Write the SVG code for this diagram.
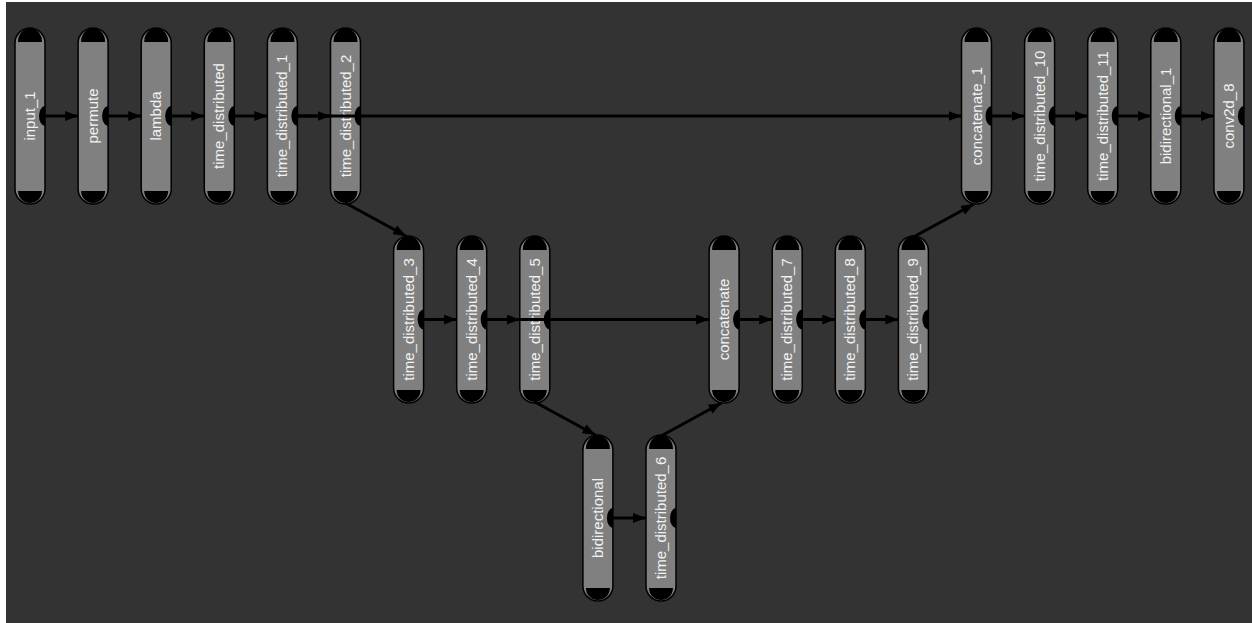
<svg xmlns="http://www.w3.org/2000/svg" xmlns:xlink="http://www.w3.org/1999/xlink" width="1252" height="623" viewBox="0 0 1252 623">
<style>
.pill{fill:#808080;stroke:#000;stroke-width:1.5}
.cap{fill:#000}
.lbl{font-family:"Liberation Sans",Arial,sans-serif;font-size:15px;fill:#f2f2f2;text-anchor:middle}
.edge{fill:none;stroke:#000;stroke-width:3;marker-end:url(#ah)}
</style>
<defs>
<marker id="ah" markerUnits="userSpaceOnUse" markerWidth="13" markerHeight="10" refX="13" refY="5" orient="auto">
<path d="M0,0 L13,5 L0,10 Z" fill="#000"/>
</marker>
<g id="pT">
<rect class="pill" x="-15" y="0" width="30" height="176" rx="15"/>
<path class="cap" d="M-12,14 A12,14 0 0 1 12,14 Z"/>
<path class="cap" d="M-12,163 A12,12 0 0 0 12,163 Z"/>
<path class="cap" d="M15,78 A6,10 0 0 0 15,98 Z"/>
</g>
<g id="pM">
<rect class="pill" x="-15" y="0" width="30" height="167" rx="15"/>
<path class="cap" d="M-12,14 A12,14 0 0 1 12,14 Z"/>
<path class="cap" d="M-12,154 A12,12 0 0 0 12,154 Z"/>
<path class="cap" d="M15,73.5 A6,10 0 0 0 15,93.5 Z"/>
</g>
<g id="pB">
<rect class="pill" x="-15" y="0" width="30" height="166" rx="15"/>
<path class="cap" d="M-12,14 A12,14 0 0 1 12,14 Z"/>
<path class="cap" d="M-12,153 A12,12 0 0 0 12,153 Z"/>
<path class="cap" d="M15,73 A6,10 0 0 0 15,93 Z"/>
</g>
</defs>
<rect x="0" y="0" width="1252" height="623" fill="#ffffff"/>
<rect x="6" y="2" width="1246" height="621" fill="#333333"/>

<g id="nodes">
<g id="input_1"><use xlink:href="#pT" x="30" y="28"/><text class="lbl" transform="translate(35,116) rotate(-90)">input_1</text></g>
<g id="permute"><use xlink:href="#pT" x="93.1" y="28"/><text class="lbl" transform="translate(98.1,116) rotate(-90)">permute</text></g>
<g id="lambda"><use xlink:href="#pT" x="156.2" y="28"/><text class="lbl" transform="translate(161.2,116) rotate(-90)">lambda</text></g>
<g id="time_distributed"><use xlink:href="#pT" x="219.3" y="28"/><text class="lbl" transform="translate(224.3,116) rotate(-90)">time_distributed</text></g>
<g id="time_distributed_1"><use xlink:href="#pT" x="282.4" y="28"/><text class="lbl" transform="translate(287.4,116) rotate(-90)">time_distributed_1</text></g>
<g id="time_distributed_2"><use xlink:href="#pT" x="345.5" y="28"/><text class="lbl" transform="translate(350.5,116) rotate(-90)">time_distributed_2</text></g>
<g id="time_distributed_3"><use xlink:href="#pM" x="408.6" y="236"/><text class="lbl" transform="translate(413.6,319.5) rotate(-90)">time_distributed_3</text></g>
<g id="time_distributed_4"><use xlink:href="#pM" x="471.7" y="236"/><text class="lbl" transform="translate(476.7,319.5) rotate(-90)">time_distributed_4</text></g>
<g id="time_distributed_5"><use xlink:href="#pM" x="534.8" y="236"/><text class="lbl" transform="translate(539.8,319.5) rotate(-90)">time_distributed_5</text></g>
<g id="bidirectional"><use xlink:href="#pB" x="597.9" y="435"/><text class="lbl" transform="translate(602.9,518) rotate(-90)">bidirectional</text></g>
<g id="time_distributed_6"><use xlink:href="#pB" x="661" y="435"/><text class="lbl" transform="translate(666,518) rotate(-90)">time_distributed_6</text></g>
<g id="concatenate"><use xlink:href="#pM" x="724.1" y="236"/><text class="lbl" transform="translate(729.1,319.5) rotate(-90)">concatenate</text></g>
<g id="time_distributed_7"><use xlink:href="#pM" x="787.2" y="236"/><text class="lbl" transform="translate(792.2,319.5) rotate(-90)">time_distributed_7</text></g>
<g id="time_distributed_8"><use xlink:href="#pM" x="850.3" y="236"/><text class="lbl" transform="translate(855.3,319.5) rotate(-90)">time_distributed_8</text></g>
<g id="time_distributed_9"><use xlink:href="#pM" x="913.4" y="236"/><text class="lbl" transform="translate(918.4,319.5) rotate(-90)">time_distributed_9</text></g>
<g id="concatenate_1"><use xlink:href="#pT" x="976.5" y="28"/><text class="lbl" transform="translate(981.5,116) rotate(-90)">concatenate_1</text></g>
<g id="time_distributed_10"><use xlink:href="#pT" x="1039.6" y="28"/><text class="lbl" transform="translate(1044.6,116) rotate(-90)">time_distributed_10</text></g>
<g id="time_distributed_11"><use xlink:href="#pT" x="1102.7" y="28"/><text class="lbl" transform="translate(1107.7,116) rotate(-90)">time_distributed_11</text></g>
<g id="bidirectional_1"><use xlink:href="#pT" x="1165.8" y="28"/><text class="lbl" transform="translate(1170.8,116) rotate(-90)">bidirectional_1</text></g>
<g id="conv2d_8"><use xlink:href="#pT" x="1228.9" y="28"/><text class="lbl" transform="translate(1233.9,116) rotate(-90)">conv2d_8</text></g>
</g>

<g id="connectors">
<line class="edge" x1="45" y1="116" x2="78.1" y2="116"/>
<line class="edge" x1="108.1" y1="116" x2="141.2" y2="116"/>
<line class="edge" x1="171.2" y1="116" x2="204.3" y2="116"/>
<line class="edge" x1="234.3" y1="116" x2="267.4" y2="116"/>
<line class="edge" x1="297.4" y1="116" x2="330.5" y2="116"/>
<line class="edge" x1="297.4" y1="116" x2="961.5" y2="116"/>
<line class="edge" x1="345.5" y1="203" x2="406" y2="236"/>
<line class="edge" x1="423.6" y1="319.5" x2="456.7" y2="319.5"/>
<line class="edge" x1="486.7" y1="319.5" x2="519.8" y2="319.5"/>
<line class="edge" x1="486.7" y1="319.5" x2="709.1" y2="319.5"/>
<line class="edge" x1="534.8" y1="402" x2="595.5" y2="435"/>
<line class="edge" x1="612.9" y1="518" x2="646" y2="518"/>
<line class="edge" x1="661" y1="436" x2="721.5" y2="403"/>
<line class="edge" x1="739.1" y1="319.5" x2="772.2" y2="319.5"/>
<line class="edge" x1="802.2" y1="319.5" x2="835.3" y2="319.5"/>
<line class="edge" x1="865.3" y1="319.5" x2="898.4" y2="319.5"/>
<line class="edge" x1="913.4" y1="237" x2="974" y2="204"/>
<line class="edge" x1="991.5" y1="116" x2="1024.6" y2="116"/>
<line class="edge" x1="1054.6" y1="116" x2="1087.7" y2="116"/>
<line class="edge" x1="1117.7" y1="116" x2="1150.8" y2="116"/>
<line class="edge" x1="1180.8" y1="116" x2="1213.9" y2="116"/>
</g>
</svg>
